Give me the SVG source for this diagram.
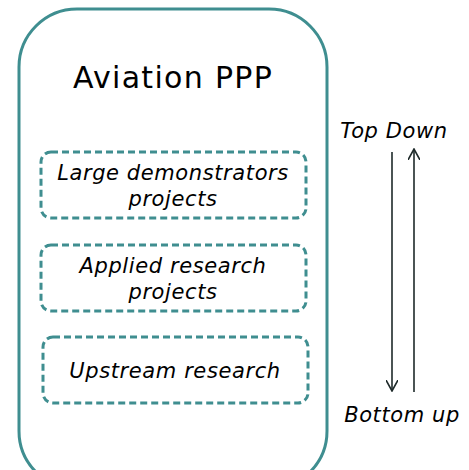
<svg xmlns="http://www.w3.org/2000/svg" width="469" height="470" viewBox="0 0 469 470">
<style>
.outer{fill:#fff;stroke:#3f8e90;stroke-width:3}
.box{fill:none;stroke:#3f8e90;stroke-width:3;stroke-dasharray:7 4}
.t{font-family:"DejaVu Sans",Verdana,sans-serif;fill:#000;text-anchor:middle}
.it{font-style:italic;font-size:21px;letter-spacing:0.6px}
.arr{stroke:#1e2a2a;stroke-width:1.6;fill:none}
</style>
<defs>
<marker id="ah" viewBox="0 0 12 12" refX="11" refY="6" markerWidth="12" markerHeight="12" markerUnits="userSpaceOnUse" orient="auto">
<path d="M0,0 L11,6 L0,12" fill="none" stroke="#1e2a2a" stroke-width="1.6"/>
</marker>
</defs>
<rect width="469" height="470" fill="#fff"/>
<g id="aviation-ppp">
<rect class="outer" x="19" y="9" width="308" height="480" rx="58"/>
<text class="t" x="173" y="88" font-size="30" letter-spacing="1.3">Aviation PPP</text>
</g>
<g id="large-demonstrators">
<rect class="box" x="41" y="152" width="265" height="66" rx="10"/>
<text class="t it" x="173" y="180">Large demonstrators</text>
<text class="t it" x="173" y="206">projects</text>
</g>
<g id="applied-research">
<rect class="box" x="41" y="245" width="265" height="66" rx="10"/>
<text class="t it" x="173" y="273">Applied research</text>
<text class="t it" x="173" y="299">projects</text>
</g>
<g id="upstream-research">
<rect class="box" x="43" y="337" width="265" height="66" rx="10"/>
<text class="t it" x="175" y="378">Upstream research</text>
</g>
<g id="top-down">
<text class="t it" x="394" y="138">Top Down</text>
</g>
<g id="bottom-up">
<text class="t it" x="402" y="422">Bottom up</text>
</g>
<g id="connectors">
<line class="arr" x1="392" y1="152" x2="392" y2="391" marker-end="url(#ah)"/>
<line class="arr" x1="414" y1="392" x2="414" y2="149" marker-end="url(#ah)"/>
</g>
</svg>
